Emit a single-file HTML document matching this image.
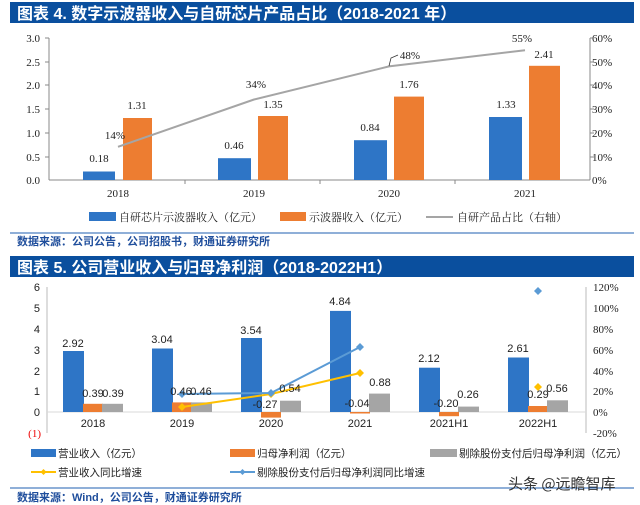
<!DOCTYPE html>
<html><head><meta charset="utf-8"><style>
body{margin:0;background:#fff;width:640px;height:505px;overflow:hidden}
svg{display:block}
.t{font-family:"Liberation Serif","Noto Serif CJK SC",serif;font-size:11px;fill:#222}
.s{font-family:"Liberation Sans","Noto Sans CJK SC",sans-serif;font-size:11px;fill:#222}
.l{font-family:"Liberation Sans","Noto Sans CJK SC",sans-serif;font-size:10.5px;fill:#222}
.h{font-family:"Liberation Sans","Noto Sans CJK SC",sans-serif;font-size:16px;font-weight:bold;fill:#fff}
.src{font-family:"Liberation Sans","Noto Sans CJK SC",sans-serif;font-size:11px;font-weight:bold;fill:#1f4e9c}
</style></head><body>
<svg width="640" height="505" viewBox="0 0 640 505">
<!-- Chart 1 -->
<rect x="10" y="2" width="624" height="21" fill="#0a4f9e"/>
<text class="h" x="17" y="19">图表 4.  数字示波器收入与自研芯片产品占比（2018-2021 年）</text>
<g class="t" text-anchor="end">
<text x="40" y="42">3.0</text><text x="40" y="66">2.5</text><text x="40" y="89">2.0</text>
<text x="40" y="113">1.5</text><text x="40" y="137">1.0</text><text x="40" y="161">0.5</text><text x="40" y="184">0.0</text>
</g>
<g class="t">
<text x="592" y="42">60%</text><text x="592" y="66">50%</text><text x="592" y="89">40%</text>
<text x="592" y="113">30%</text><text x="592" y="137">20%</text><text x="592" y="161">10%</text><text x="592" y="184">0%</text>
</g>
<g stroke="#888" stroke-width="1">
<line x1="49" y1="38" x2="49" y2="180"/><line x1="590" y1="38" x2="590" y2="180"/>
<line x1="49" y1="180" x2="590" y2="180"/>
<line x1="45" y1="38" x2="49" y2="38"/><line x1="45" y1="62" x2="49" y2="62"/><line x1="45" y1="85" x2="49" y2="85"/>
<line x1="45" y1="109" x2="49" y2="109"/><line x1="45" y1="133" x2="49" y2="133"/><line x1="45" y1="157" x2="49" y2="157"/>
<line x1="590" y1="38" x2="594" y2="38"/><line x1="590" y1="62" x2="594" y2="62"/><line x1="590" y1="85" x2="594" y2="85"/>
<line x1="590" y1="109" x2="594" y2="109"/><line x1="590" y1="133" x2="594" y2="133"/><line x1="590" y1="157" x2="594" y2="157"/>
<line x1="185" y1="180" x2="185" y2="184"/><line x1="320" y1="180" x2="320" y2="184"/><line x1="455" y1="180" x2="455" y2="184"/>
</g>
<g fill="#2e75c6">
<rect x="83" y="171.5" width="32" height="8.5"/><rect x="218" y="158.2" width="33" height="21.8"/>
<rect x="354" y="140.2" width="33" height="39.8"/><rect x="489" y="117" width="33" height="63"/>
</g>
<g fill="#ed7d31">
<rect x="123" y="118" width="29" height="62"/><rect x="258" y="116" width="30" height="64"/>
<rect x="394" y="96.6" width="30" height="83.4"/><rect x="529" y="65.8" width="31" height="114.2"/>
</g>
<polyline points="118,146.8 254,99.5 389,66.4 525,50.2" fill="none" stroke="#a5a5a5" stroke-width="2"/>
<polyline points="389,66 391,58 398,55" fill="none" stroke="#333" stroke-width="0.8"/>
<g class="t" text-anchor="middle">
<text x="99" y="162">0.18</text><text x="137" y="109">1.31</text>
<text x="234" y="149">0.46</text><text x="273" y="108">1.35</text>
<text x="370" y="131">0.84</text><text x="409" y="88">1.76</text>
<text x="506" y="108">1.33</text><text x="544" y="58">2.41</text>
<text x="115" y="139">14%</text><text x="256" y="88">34%</text><text x="410" y="59">48%</text><text x="522" y="42">55%</text>
<text x="118" y="197">2018</text><text x="254" y="197">2019</text><text x="389" y="197">2020</text><text x="525" y="197">2021</text>
</g>
<rect x="89" y="212" width="27" height="9" fill="#2e75c6"/>
<text class="t" x="119" y="221">自研芯片示波器收入（亿元）</text>
<rect x="280" y="212" width="26" height="9" fill="#ed7d31"/>
<text class="t" x="309" y="221">示波器收入（亿元）</text>
<line x1="426" y1="217" x2="453" y2="217" stroke="#a5a5a5" stroke-width="2"/>
<text class="t" x="457" y="221">自研产品占比（右轴）</text>
<line x1="10" y1="233" x2="634" y2="233" stroke="#1f5fb0" stroke-width="1"/>
<text class="src" x="17" y="245">数据来源：公司公告，公司招股书，财通证券研究所</text>

<!-- Chart 2 -->
<rect x="10" y="256" width="624" height="21" fill="#0a4f9e"/>
<text class="h" x="17" y="273">图表 5.  公司营业收入与归母净利润（2018-2022H1）</text>
<g class="s" text-anchor="end">
<text x="40" y="291">6</text><text x="40" y="312">5</text><text x="40" y="333">4</text><text x="40" y="354">3</text>
<text x="40" y="375">2</text><text x="40" y="395">1</text><text x="40" y="416">0</text>
</g>
<text class="t" x="41" y="437" text-anchor="end" style="fill:#e00">(1)</text>
<g class="t">
<text x="593" y="291">120%</text><text x="593" y="312">100%</text><text x="593" y="333">80%</text><text x="593" y="354">60%</text>
<text x="593" y="375">40%</text><text x="593" y="395">20%</text><text x="593" y="416">0%</text><text x="593" y="437">-20%</text>
</g>
<g stroke="#bbb" stroke-width="1">
<line x1="47" y1="287" x2="47" y2="433"/><line x1="586" y1="287" x2="586" y2="433"/>
</g>
<line x1="47" y1="412" x2="586" y2="412" stroke="#d9d9d9"/>
<g fill="#2e75c6">
<rect x="63" y="351" width="21" height="61"/><rect x="152" y="348.5" width="21" height="63.5"/>
<rect x="241" y="338" width="21" height="74"/><rect x="330" y="310.9" width="21" height="101.1"/>
<rect x="419" y="367.7" width="21" height="44.3"/><rect x="508" y="357.5" width="21" height="54.5"/>
</g>
<g fill="#ed7d31">
<rect x="83" y="403.8" width="20" height="8.2"/><rect x="172" y="402.4" width="20" height="9.6"/>
<rect x="261" y="412" width="20" height="5.6"/><rect x="350" y="412" width="20" height="1.5"/>
<rect x="439" y="412" width="20" height="4.2"/><rect x="528" y="406" width="20" height="6"/>
</g>
<g fill="#a5a5a5">
<rect x="102" y="403.8" width="21" height="8.2"/><rect x="191" y="402.4" width="21" height="9.6"/>
<rect x="280" y="400.7" width="21" height="11.3"/><rect x="369" y="393.6" width="21" height="18.4"/>
<rect x="458" y="406.6" width="21" height="5.4"/><rect x="547" y="400.3" width="21" height="11.7"/>
</g>
<polyline points="182,407 271,394 360,373" fill="none" stroke="#ffc000" stroke-width="2"/>
<g fill="#ffc000">
<path d="M182,403 l4,4 -4,4 -4,-4z"/><path d="M271,390 l4,4 -4,4 -4,-4z"/><path d="M360,369 l4,4 -4,4 -4,-4z"/><path d="M538,383 l4,4 -4,4 -4,-4z"/>
</g>
<polyline points="182,394 271,393 360,347" fill="none" stroke="#5b9bd5" stroke-width="2"/>
<g fill="#5b9bd5">
<path d="M182,390 l4,4 -4,4 -4,-4z"/><path d="M271,389 l4,4 -4,4 -4,-4z"/><path d="M360,343 l4,4 -4,4 -4,-4z"/><path d="M538,287 l4,4 -4,4 -4,-4z"/>
</g>
<g class="s" text-anchor="middle">
<text x="73" y="347">2.92</text><text x="162" y="343">3.04</text><text x="251" y="334">3.54</text><text x="340" y="305">4.84</text>
<text x="429" y="362">2.12</text><text x="518" y="352">2.61</text>
<text x="93" y="397">0.39</text><text x="113" y="397">0.39</text>
<text x="181" y="395">0.46</text><text x="201" y="395">0.46</text>
<text x="265" y="408">-0.27</text><text x="290" y="392">0.54</text>
<text x="357" y="407">-0.04</text><text x="380" y="386">0.88</text>
<text x="446" y="407">-0.20</text><text x="468" y="398">0.26</text>
<text x="538" y="398">0.29</text><text x="557" y="392">0.56</text>
<text x="93" y="427">2018</text><text x="182" y="427">2019</text><text x="271" y="427">2020</text>
<text x="360" y="427">2021</text><text x="449" y="427">2021H1</text><text x="538" y="427">2022H1</text>
</g>
<rect x="31" y="449" width="25" height="8" fill="#2e75c6"/>
<text class="l" x="58" y="457">营业收入（亿元）</text>
<rect x="230" y="449" width="25" height="8" fill="#ed7d31"/>
<text class="l" x="257" y="457">归母净利润（亿元）</text>
<rect x="430" y="449" width="27" height="8" fill="#a5a5a5"/>
<text class="l" x="459" y="457">剔除股份支付后归母净利润（亿元）</text>
<line x1="31" y1="472" x2="56" y2="472" stroke="#ffc000" stroke-width="2"/>
<path d="M43.5,469 l3,3 -3,3 -3,-3z" fill="#ffc000"/>
<text class="l" x="58" y="476">营业收入同比增速</text>
<line x1="230" y1="472" x2="255" y2="472" stroke="#5b9bd5" stroke-width="2"/>
<path d="M242.5,469 l3,3 -3,3 -3,-3z" fill="#5b9bd5"/>
<text class="l" x="257" y="476">剔除股份支付后归母净利润同比增速</text>
<line x1="10" y1="488" x2="634" y2="488" stroke="#1f5fb0" stroke-width="1"/>
<text x="508" y="489" style="font-family:'Noto Sans CJK SC',sans-serif;font-size:15px;fill:#333">头条 @远瞻智库</text>
<text class="src" x="17" y="501">数据来源：Wind，公司公告，财通证券研究所</text>
</svg>
</body></html>
